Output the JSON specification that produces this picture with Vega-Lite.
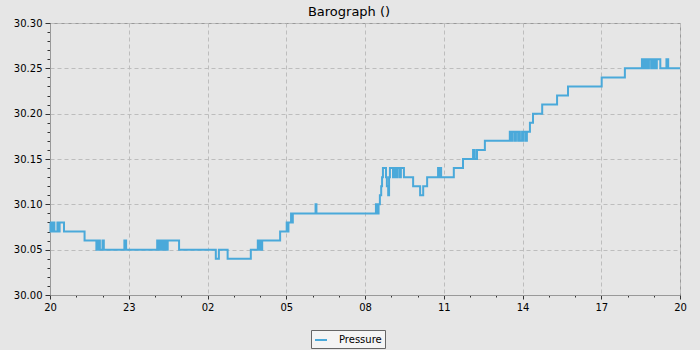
{
"$schema": "https://vega.github.io/schema/vega-lite/v6.json",
"width": 630,
"height": 272,
"autosize": {"type": "none"},
"padding": {"left": 50, "top": 23, "right": 20, "bottom": 55},
"background": "#e6e6e6",
"title": {"text": "Barograph ()", "font": "DejaVu Sans", "fontSize": 13, "fontWeight": "normal", "color": "#000000", "offset": 5, "dx": -16, "dy": 6},
"config": {"view": {"stroke": "#999999", "fill": "#e6e6e6"}, "font": "DejaVu Sans"},
"data": {"values": [
{"t": "2024-01-01T20:00", "p": 30.08},
{"t": "2024-01-01T20:01", "p": 30.07},
{"t": "2024-01-01T20:03", "p": 30.08},
{"t": "2024-01-01T20:06", "p": 30.07},
{"t": "2024-01-01T20:08", "p": 30.08},
{"t": "2024-01-01T20:10", "p": 30.07},
{"t": "2024-01-01T20:17", "p": 30.08},
{"t": "2024-01-01T20:19", "p": 30.07},
{"t": "2024-01-01T20:22", "p": 30.08},
{"t": "2024-01-01T20:32", "p": 30.07},
{"t": "2024-01-01T21:19", "p": 30.06},
{"t": "2024-01-01T21:46", "p": 30.05},
{"t": "2024-01-01T21:49", "p": 30.06},
{"t": "2024-01-01T21:51", "p": 30.05},
{"t": "2024-01-01T21:53", "p": 30.06},
{"t": "2024-01-01T21:54", "p": 30.05},
{"t": "2024-01-01T22:00", "p": 30.06},
{"t": "2024-01-01T22:03", "p": 30.05},
{"t": "2024-01-01T22:50", "p": 30.06},
{"t": "2024-01-01T22:54", "p": 30.05},
{"t": "2024-01-02T00:05", "p": 30.06},
{"t": "2024-01-02T00:07", "p": 30.05},
{"t": "2024-01-02T00:09", "p": 30.06},
{"t": "2024-01-02T00:11", "p": 30.05},
{"t": "2024-01-02T00:14", "p": 30.06},
{"t": "2024-01-02T00:16", "p": 30.05},
{"t": "2024-01-02T00:18", "p": 30.06},
{"t": "2024-01-02T00:21", "p": 30.05},
{"t": "2024-01-02T00:23", "p": 30.06},
{"t": "2024-01-02T00:25", "p": 30.05},
{"t": "2024-01-02T00:29", "p": 30.06},
{"t": "2024-01-02T00:55", "p": 30.05},
{"t": "2024-01-02T02:19", "p": 30.04},
{"t": "2024-01-02T02:26", "p": 30.05},
{"t": "2024-01-02T02:46", "p": 30.04},
{"t": "2024-01-02T03:39", "p": 30.05},
{"t": "2024-01-02T03:55", "p": 30.06},
{"t": "2024-01-02T03:58", "p": 30.05},
{"t": "2024-01-02T04:00", "p": 30.06},
{"t": "2024-01-02T04:02", "p": 30.05},
{"t": "2024-01-02T04:05", "p": 30.06},
{"t": "2024-01-02T04:46", "p": 30.07},
{"t": "2024-01-02T05:01", "p": 30.08},
{"t": "2024-01-02T05:03", "p": 30.07},
{"t": "2024-01-02T05:05", "p": 30.08},
{"t": "2024-01-02T05:11", "p": 30.09},
{"t": "2024-01-02T05:13", "p": 30.08},
{"t": "2024-01-02T05:15", "p": 30.09},
{"t": "2024-01-02T06:07", "p": 30.10},
{"t": "2024-01-02T06:09", "p": 30.09},
{"t": "2024-01-02T08:25", "p": 30.10},
{"t": "2024-01-02T08:29", "p": 30.09},
{"t": "2024-01-02T08:31", "p": 30.10},
{"t": "2024-01-02T08:34", "p": 30.11},
{"t": "2024-01-02T08:37", "p": 30.12},
{"t": "2024-01-02T08:39", "p": 30.13},
{"t": "2024-01-02T08:41", "p": 30.14},
{"t": "2024-01-02T08:48", "p": 30.13},
{"t": "2024-01-02T08:50", "p": 30.12},
{"t": "2024-01-02T08:53", "p": 30.11},
{"t": "2024-01-02T08:55", "p": 30.13},
{"t": "2024-01-02T08:57", "p": 30.14},
{"t": "2024-01-02T09:04", "p": 30.13},
{"t": "2024-01-02T09:06", "p": 30.14},
{"t": "2024-01-02T09:09", "p": 30.13},
{"t": "2024-01-02T09:11", "p": 30.14},
{"t": "2024-01-02T09:13", "p": 30.13},
{"t": "2024-01-02T09:15", "p": 30.14},
{"t": "2024-01-02T09:20", "p": 30.13},
{"t": "2024-01-02T09:22", "p": 30.14},
{"t": "2024-01-02T09:29", "p": 30.13},
{"t": "2024-01-02T09:50", "p": 30.12},
{"t": "2024-01-02T10:06", "p": 30.11},
{"t": "2024-01-02T10:13", "p": 30.12},
{"t": "2024-01-02T10:22", "p": 30.13},
{"t": "2024-01-02T10:47", "p": 30.14},
{"t": "2024-01-02T10:49", "p": 30.13},
{"t": "2024-01-02T10:51", "p": 30.14},
{"t": "2024-01-02T10:54", "p": 30.13},
{"t": "2024-01-02T11:23", "p": 30.14},
{"t": "2024-01-02T11:44", "p": 30.15},
{"t": "2024-01-02T12:07", "p": 30.16},
{"t": "2024-01-02T12:11", "p": 30.15},
{"t": "2024-01-02T12:16", "p": 30.16},
{"t": "2024-01-02T12:34", "p": 30.17},
{"t": "2024-01-02T13:31", "p": 30.18},
{"t": "2024-01-02T13:34", "p": 30.17},
{"t": "2024-01-02T13:36", "p": 30.18},
{"t": "2024-01-02T13:41", "p": 30.17},
{"t": "2024-01-02T13:45", "p": 30.18},
{"t": "2024-01-02T13:50", "p": 30.17},
{"t": "2024-01-02T13:52", "p": 30.18},
{"t": "2024-01-02T13:54", "p": 30.17},
{"t": "2024-01-02T13:59", "p": 30.18},
{"t": "2024-01-02T14:01", "p": 30.17},
{"t": "2024-01-02T14:03", "p": 30.18},
{"t": "2024-01-02T14:08", "p": 30.17},
{"t": "2024-01-02T14:10", "p": 30.18},
{"t": "2024-01-02T14:17", "p": 30.19},
{"t": "2024-01-02T14:24", "p": 30.20},
{"t": "2024-01-02T14:45", "p": 30.21},
{"t": "2024-01-02T15:19", "p": 30.22},
{"t": "2024-01-02T15:44", "p": 30.23},
{"t": "2024-01-02T17:01", "p": 30.24},
{"t": "2024-01-02T17:54", "p": 30.25},
{"t": "2024-01-02T18:33", "p": 30.26},
{"t": "2024-01-02T18:35", "p": 30.25},
{"t": "2024-01-02T18:38", "p": 30.26},
{"t": "2024-01-02T18:42", "p": 30.25},
{"t": "2024-01-02T18:45", "p": 30.26},
{"t": "2024-01-02T18:47", "p": 30.25},
{"t": "2024-01-02T18:49", "p": 30.26},
{"t": "2024-01-02T18:54", "p": 30.25},
{"t": "2024-01-02T18:56", "p": 30.26},
{"t": "2024-01-02T18:58", "p": 30.25},
{"t": "2024-01-02T19:01", "p": 30.26},
{"t": "2024-01-02T19:05", "p": 30.25},
{"t": "2024-01-02T19:07", "p": 30.26},
{"t": "2024-01-02T19:15", "p": 30.25},
{"t": "2024-01-02T19:29", "p": 30.26},
{"t": "2024-01-02T19:33", "p": 30.25},
{"t": "2024-01-02T20:00", "p": 30.25}
]},
"layer": [
{
"mark": {"type": "line", "strokeOpacity": 0},
"encoding": {
"x": {"field": "t", "type": "temporal",
 "scale": {"domain": [{"year": 2024, "month": 1, "date": 1, "hours": 20}, {"year": 2024, "month": 1, "date": 2, "hours": 20}], "nice": false},
 "axis": {"title": null, "orient": "bottom",
  "values": [{"year": 2024, "month": 1, "date": 1, "hours": 20}, {"year": 2024, "month": 1, "date": 1, "hours": 21}, {"year": 2024, "month": 1, "date": 1, "hours": 22}, {"year": 2024, "month": 1, "date": 1, "hours": 23}, {"year": 2024, "month": 1, "date": 2, "hours": 0}, {"year": 2024, "month": 1, "date": 2, "hours": 1}, {"year": 2024, "month": 1, "date": 2, "hours": 2}, {"year": 2024, "month": 1, "date": 2, "hours": 3}, {"year": 2024, "month": 1, "date": 2, "hours": 4}, {"year": 2024, "month": 1, "date": 2, "hours": 5}, {"year": 2024, "month": 1, "date": 2, "hours": 6}, {"year": 2024, "month": 1, "date": 2, "hours": 7}, {"year": 2024, "month": 1, "date": 2, "hours": 8}, {"year": 2024, "month": 1, "date": 2, "hours": 9}, {"year": 2024, "month": 1, "date": 2, "hours": 10}, {"year": 2024, "month": 1, "date": 2, "hours": 11}, {"year": 2024, "month": 1, "date": 2, "hours": 12}, {"year": 2024, "month": 1, "date": 2, "hours": 13}, {"year": 2024, "month": 1, "date": 2, "hours": 14}, {"year": 2024, "month": 1, "date": 2, "hours": 15}, {"year": 2024, "month": 1, "date": 2, "hours": 16}, {"year": 2024, "month": 1, "date": 2, "hours": 17}, {"year": 2024, "month": 1, "date": 2, "hours": 18}, {"year": 2024, "month": 1, "date": 2, "hours": 19}, {"year": 2024, "month": 1, "date": 2, "hours": 20}],
  "labels": false, "grid": false, "domain": false, "tickSize": 2, "tickColor": "#333333"}},
"y": {"field": "p", "type": "quantitative",
 "scale": {"domain": [30, 30.3], "nice": false, "zero": false},
 "axis": {"title": null, "orient": "left", "values": [30.00,30.01,30.02,30.03,30.04,30.05,30.06,30.07,30.08,30.09,30.10,30.11,30.12,30.13,30.14,30.15,30.16,30.17,30.18,30.19,30.20,30.21,30.22,30.23,30.24,30.25,30.26,30.27,30.28,30.29,30.30], "labels": false, "grid": false, "domain": false, "tickSize": 3, "tickColor": "#333333"}}
}
},
{
"mark": {"type": "line", "interpolate": "step-after", "strokeWidth": 2},
"encoding": {
"x": {"field": "t", "type": "temporal",
 "axis": {"title": null, "orient": "bottom", "format": "%H", "values": [{"year": 2024, "month": 1, "date": 1, "hours": 20}, {"year": 2024, "month": 1, "date": 1, "hours": 23}, {"year": 2024, "month": 1, "date": 2, "hours": 2}, {"year": 2024, "month": 1, "date": 2, "hours": 5}, {"year": 2024, "month": 1, "date": 2, "hours": 8}, {"year": 2024, "month": 1, "date": 2, "hours": 11}, {"year": 2024, "month": 1, "date": 2, "hours": 14}, {"year": 2024, "month": 1, "date": 2, "hours": 17}, {"year": 2024, "month": 1, "date": 2, "hours": 20}],
  "labelOverlap": false, "labelFlush": false, "labelFontSize": 10, "labelColor": "#000000", "labelPadding": 3,
  "tickColor": "#333333", "tickSize": 4,
  "grid": true, "gridColor": "#bdbdbd", "gridDash": [4, 3],
  "domainColor": "#999999"}},
"y": {"field": "p", "type": "quantitative",
 "axis": {"title": null, "orient": "left", "format": ".2f",
  "values": [30.00, 30.05, 30.10, 30.15, 30.20, 30.25, 30.30],
  "labelOverlap": false, "labelFlush": false, "labelFontSize": 10, "labelColor": "#000000", "labelPadding": 3,
  "tickColor": "#333333", "tickSize": 5,
  "grid": true, "gridColor": "#bdbdbd", "gridDash": [4, 3],
  "domainColor": "#999999"}},
"color": {"datum": "Pressure", "scale": {"range": ["#4aa9da"]},
 "legend": {"title": null, "orient": "none", "legendX": 261, "legendY": 307, "direction": "horizontal",
  "symbolType": "stroke", "symbolStrokeWidth": 2, "symbolSize": 144, "labelFontSize": 10, "labelColor": "#000000",
  "padding": 3, "fillColor": "#f4f4f4", "strokeColor": "#666666", "labelOffset": 11}}
}
}
],
"resolve": {"axis": {"x": "independent", "y": "independent"}}
}
